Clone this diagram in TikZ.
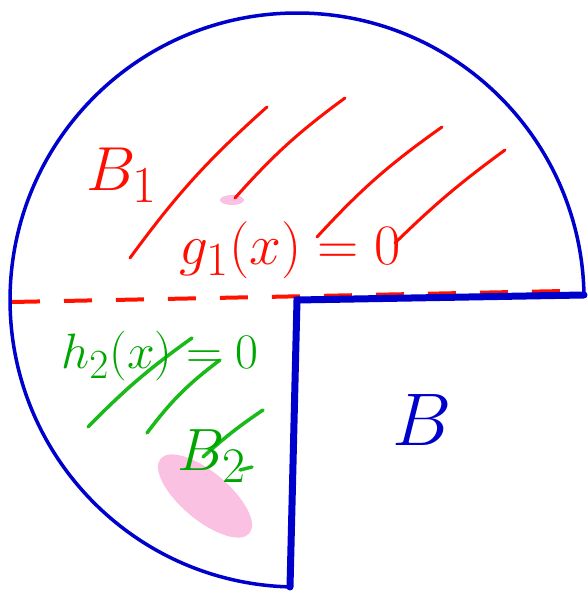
\documentclass[tikz,border=0pt]{standalone}
\usetikzlibrary{positioning}
\begin{document}
\begin{tikzpicture}[
    x=1pt, y=1pt,
    rim/.style={draw=blue!80!black, line width=3.5pt},
    cut/.style={draw=blue!80!black, line width=7pt, line cap=round},
    level/.style={draw=red!85!orange, line width=4pt, dashed, dash pattern=on 28pt off 24pt},
    hatchone/.style={draw=red!90!orange, line width=3pt, line cap=round},
    hatchtwo/.style={draw=green!70!black!90!white, line width=3.5pt, line cap=round},
    handtext/.style={font=\Huge, transform shape},
    redlabel/.style={handtext, text=red!90!orange},
    greenlabel/.style={handtext, text=green!65!black},
    bluelabel/.style={handtext, text=blue!80!black}
    ]
    \useasboundingbox (0,0) rectangle (587,596);
    % smudges
    \fill[magenta!35, opacity=0.7, rotate around={-40:(205,100)}] (205,100) ellipse [x radius=58, y radius=24];
    \fill[magenta!35, opacity=0.7] (232,396) ellipse [x radius=12, y radius=5];
    % corners of the region
    \coordinate (O) at (297,296);
    \coordinate (E) at (584,301);
    \coordinate (S) at (290,9);
    \coordinate (W) at (12,294);
    \coordinate (Wend) at (565,305);
    % level line and circle
    \draw[level] (W) -- (Wend);
    \draw[rim] (E) arc[start angle=1, end angle=268.6, radius=287];
    \draw[cut] (E) -- (O) -- (S);
    % hatching of B1
    \draw[hatchone] (130,338) to[bend left=6] (267,489);
    \draw[hatchone] (235,398) to[bend left=6] (345,498);
    \draw[hatchone] (317,359) to[bend left=6] (442,469);
    \draw[hatchone] (395,353) to[bend left=4] (505,446);
    % hatching of B2
    \draw[hatchtwo] (88,169) to[bend left=5] (192,258);
    \draw[hatchtwo] (147,163) to[bend left=8] (220,236);
    \draw[hatchtwo] (203,139) to[bend left=4] (263,186);
    \draw[hatchtwo] (240,126) -- (252,129);
    % labels
    \node[redlabel, scale=2.5] (b1) at (122,421) {$B_1$};
    \node[redlabel, scale=2.3] (g1) at (290,346) {$g_1(x)=0$};
    \node[greenlabel, scale=2.0] (h2) at (160,240) {$h_2(x)=0$};
    \node[greenlabel, scale=2.4] (b2) at (212,140) {$B_2$};
    \node[bluelabel, scale=3] (b) at (422,176) {$B$};
\end{tikzpicture}
\end{document}
